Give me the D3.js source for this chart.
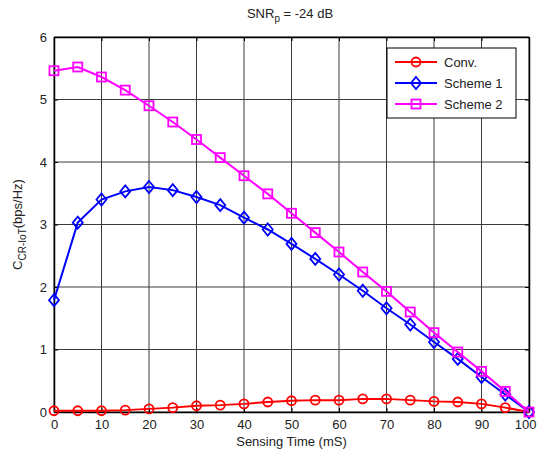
<!DOCTYPE html>
<html lang="en">
<head>
  <meta charset="utf-8">
  <title>SNRp = -24 dB</title>
  <script src="https://d3js.org/d3.v7.min.js"></script>
  <style>
    body { margin: 0; background: #fff; }
    svg text { font-family: "Liberation Sans", Arial, sans-serif; fill: #222; }
  </style>
</head>
<body>
<div id="container"></div>
<script>
  var w = 537, h = 452;
  var margin = {left: 54, right: 7, top: 37, bottom: 40};

  var times = [0, 5, 10, 15, 20, 25, 30, 35, 40, 45, 50, 55, 60, 65, 70, 75, 80, 85, 90, 95, 100];
  var conv = [0.02, 0.02, 0.02, 0.03, 0.05, 0.07, 0.10, 0.11, 0.13, 0.16, 0.18, 0.19, 0.19, 0.21, 0.21, 0.19, 0.17, 0.16, 0.13, 0.07, 0.0];
  var scheme1 = [1.79, 3.03, 3.40, 3.53, 3.60, 3.55, 3.44, 3.31, 3.11, 2.92, 2.69, 2.45, 2.20, 1.94, 1.66, 1.40, 1.12, 0.85, 0.56, 0.28, 0.0];
  var scheme2 = [5.46, 5.52, 5.36, 5.15, 4.90, 4.64, 4.36, 4.07, 3.78, 3.49, 3.18, 2.87, 2.56, 2.24, 1.93, 1.60, 1.27, 0.96, 0.65, 0.33, 0.0];
  var xTicks = [0, 10, 20, 30, 40, 50, 60, 70, 80, 90, 100];
  var yTicks = [0, 1, 2, 3, 4, 5, 6];

  var series = [
    {name: "Conv.", values: conv, color: "#ff0000", marker: "circle"},
    {name: "Scheme 1", values: scheme1, color: "#0000ff", marker: "diamond"},
    {name: "Scheme 2", values: scheme2, color: "#ff00ff", marker: "square"}
  ];

  var svg = d3.select("#container").append("svg")
    .attr("width", w).attr("height", h);

  var x = d3.scaleLinear().domain([0, 100]).range([margin.left, w - margin.right - 1]);
  var y = d3.scaleLinear().domain([0, 6]).range([h - margin.bottom, margin.top]);

  // grid
  svg.append("g").selectAll("line").data(xTicks).enter().append("line")
    .attr("x1", d => x(d)).attr("x2", d => x(d))
    .attr("y1", y(0)).attr("y2", y(6))
    .attr("stroke", "#3a3a3a").attr("stroke-width", 1);
  svg.append("g").selectAll("line").data(yTicks).enter().append("line")
    .attr("x1", x(0)).attr("x2", x(100))
    .attr("y1", d => y(d)).attr("y2", d => y(d))
    .attr("stroke", "#3a3a3a").attr("stroke-width", 1);

  // axes
  var xAxis = svg.append("g").attr("transform", "translate(0," + y(0) + ")")
    .call(d3.axisBottom(x).tickValues(xTicks).tickSizeInner(-4).tickSizeOuter(0).tickPadding(8));
  var yAxis = svg.append("g").attr("transform", "translate(" + x(0) + ",0)")
    .call(d3.axisLeft(y).tickValues(yTicks).tickFormat(d3.format("d")).tickSizeInner(-4).tickSizeOuter(0).tickPadding(7));
  svg.append("g").attr("transform", "translate(0," + y(6) + ")")
    .call(d3.axisTop(x).tickValues(xTicks).tickSizeInner(-4).tickSizeOuter(0).tickFormat(""));
  svg.append("g").attr("transform", "translate(" + x(100) + ",0)")
    .call(d3.axisRight(y).tickValues(yTicks).tickSizeInner(-4).tickSizeOuter(0).tickFormat(""));
  svg.selectAll(".domain").attr("stroke", "#000").attr("stroke-width", 1.5);
  svg.selectAll(".tick line").attr("stroke", "#000");
  svg.selectAll(".tick text").style("font-size", "13px").style("fill", "#222");
  // keep the last x label inside the window
  xAxis.selectAll(".tick text").filter(d => d === 100).attr("text-anchor", "end").attr("dx", 7);

  // lines
  var line = d3.line().x((d, i) => x(times[i])).y(d => y(d));

  function drawMarker(g, type, cx, cy, color) {
    if (type === "circle") {
      g.append("circle").attr("cx", cx).attr("cy", cy).attr("r", 4.5)
        .attr("fill", "none").attr("stroke", color).attr("stroke-width", 1.8);
    } else if (type === "diamond") {
      g.append("path").attr("d", "M" + cx + "," + (cy - 6) + "L" + (cx + 5) + "," + cy + "L" + cx + "," + (cy + 6) + "L" + (cx - 5) + "," + cy + "Z")
        .attr("fill", "none").attr("stroke", color).attr("stroke-width", 1.8);
    } else {
      g.append("rect").attr("x", cx - 4.5).attr("y", cy - 4.5).attr("width", 9).attr("height", 9)
        .attr("fill", "none").attr("stroke", color).attr("stroke-width", 1.8);
    }
  }

  series.forEach(function(s) {
    var g = svg.append("g");
    g.append("path").datum(s.values).attr("d", line)
      .attr("fill", "none").attr("stroke", s.color).attr("stroke-width", 2);
    s.values.forEach(function(v, i) { drawMarker(g, s.marker, x(times[i]), y(v), s.color); });
  });

  // title
  var title = svg.append("text").attr("x", 290).attr("y", 18).attr("text-anchor", "middle").style("font-size", "13px");
  title.append("tspan").text("SNR");
  title.append("tspan").attr("dy", 4).style("font-size", "10px").text("p");
  title.append("tspan").attr("dy", -4).text(" = -24 dB");

  // axis labels
  svg.append("text").attr("x", x(50)).attr("y", 446).attr("text-anchor", "middle")
    .style("font-size", "13px").text("Sensing Time (mS)");
  var yl = svg.append("text").attr("transform", "translate(22," + y(3) + ") rotate(-90)")
    .attr("text-anchor", "middle").style("font-size", "13px");
  yl.append("tspan").text("C");
  yl.append("tspan").attr("dy", 4).style("font-size", "10px").text("CR-IoT");
  yl.append("tspan").attr("dy", -4).text("(bps/Hz)");

  // legend
  var lg = svg.append("g");
  lg.append("rect").attr("x", 387).attr("y", 48).attr("width", 129).attr("height", 70)
    .attr("fill", "#fff").attr("stroke", "#000").attr("stroke-width", 1);
  series.forEach(function(s, i) {
    var ly = 62 + i * 21;
    lg.append("line").attr("x1", 395).attr("x2", 437).attr("y1", ly).attr("y2", ly)
      .attr("stroke", s.color).attr("stroke-width", 2);
    drawMarker(lg, s.marker, 416, ly, s.color);
    lg.append("text").attr("x", 444).attr("y", ly + 5).style("font-size", "13px").text(s.name);
  });
</script>
</body>
</html>
